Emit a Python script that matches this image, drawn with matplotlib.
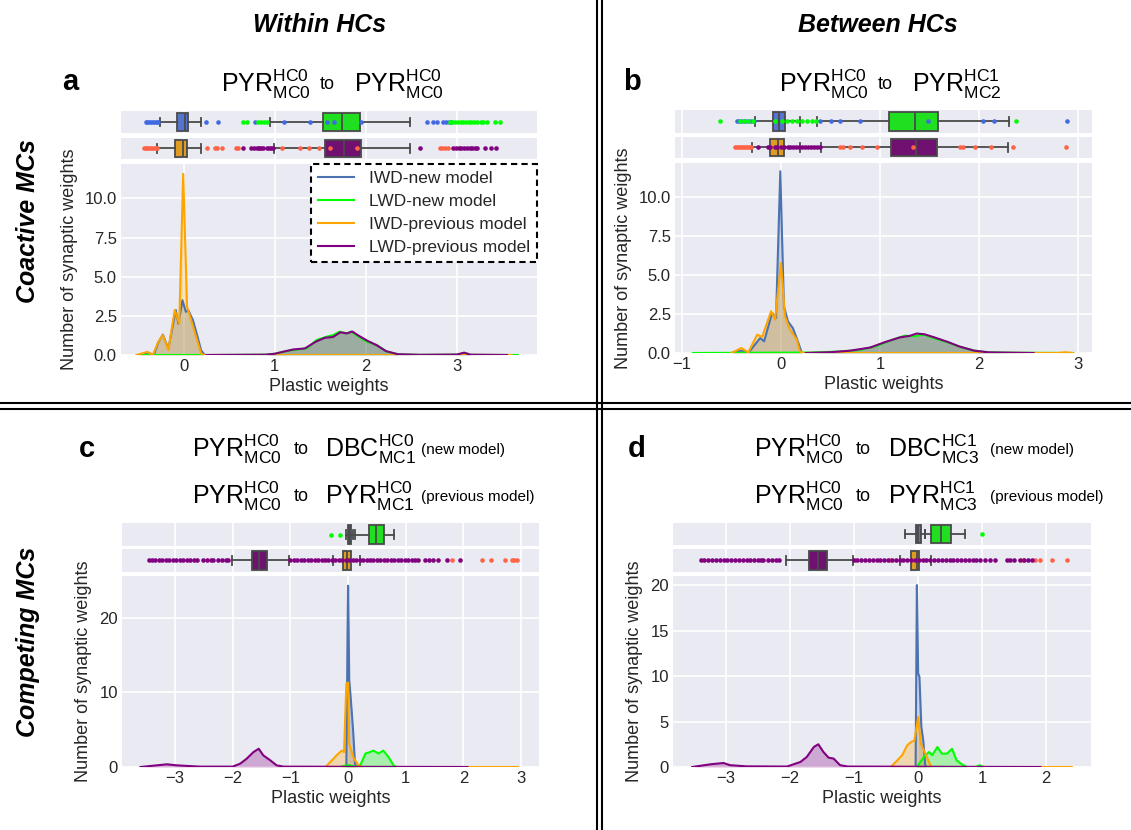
import matplotlib.pyplot as plt
from matplotlib.lines import Line2D

plt.rcParams['font.family'] = ['Liberation Sans', 'DejaVu Sans']
plt.rcParams['mathtext.fontset'] = 'custom'
plt.rcParams['mathtext.rm'] = 'Liberation Sans'
plt.rcParams['mathtext.it'] = 'Liberation Sans:italic'
plt.rcParams['mathtext.bf'] = 'Liberation Sans:bold'

# legend labels, in drawing order
series = ['IWD-new model', 'LWD-new model', 'IWD-previous model', 'LWD-previous model']

# ---- panel a : density curves (x, y) ----
a_x_iwd_new = [-0.50, -0.39, -0.33, -0.28, -0.23, -0.17, -0.088, -0.06, -0.015, 0.022, 0.048, 0.10, 0.14, 0.19, 0.23]
a_y_iwd_new = [0, 0.15, 0, 0.8, 1.3, 0.4, 2.87, 2.0, 3.5, 2.76, 2.87, 2.23, 1.4, 0.3, 0]
a_x_lwd_new = [-0.45, 0.3, 0.9, 0.98, 1.09, 1.2, 1.35, 1.46, 1.57, 1.64, 1.71, 1.79, 1.84, 1.92, 2.01, 2.12, 2.23, 2.37, 2.6, 3.0, 3.09, 3.15, 3.67]
a_y_lwd_new = [0, 0, 0.02, 0.06, 0.2, 0.32, 0.42, 0.96, 1.17, 1.27, 1.49, 1.38, 1.49, 1.17, 0.85, 0.64, 0.21, 0.03, 0.01, 0.02, 0.12, 0.01, 0]
a_x_iwd_prev = [-0.52, -0.40, -0.34, -0.28, -0.23, -0.17, -0.10, -0.05, -0.007, 0.036, 0.08, 0.14, 0.19, 0.22, 3.6]
a_y_iwd_prev = [0, 0.2, 0, 0.85, 1.27, 0.32, 2.87, 2.0, 11.57, 3.08, 2.23, 1.06, 0.1, 0, 0]
a_x_lwd_prev = [0.25, 0.9, 1.0, 1.1, 1.2, 1.33, 1.45, 1.55, 1.64, 1.72, 1.79, 1.85, 1.93, 2.02, 2.12, 2.22, 2.35, 2.6, 3.0, 3.08, 3.15, 3.55]
a_y_lwd_prev = [0, 0.02, 0.08, 0.22, 0.35, 0.42, 0.85, 1.1, 1.15, 1.45, 1.38, 1.5, 1.2, 0.9, 0.62, 0.25, 0.05, 0.01, 0.03, 0.15, 0.02, 0]

# ---- panel b ----
b_x_iwd_new = [-0.50, -0.40, -0.33, -0.21, -0.17, -0.09, -0.05, -0.007, 0.03, 0.07, 0.12, 0.17, 0.21]
b_y_iwd_new = [0, 0.15, 0, 0.96, 0.75, 2.57, 2.25, 11.67, 3.0, 2.03, 1.6, 0.75, 0]
b_x_lwd_new = [-0.89, 0.29, 0.63, 0.80, 0.96, 1.13, 1.25, 1.34, 1.44, 1.54, 1.68, 1.81, 1.94, 2.08, 2.31, 2.95]
b_y_lwd_new = [0, 0.03, 0.1, 0.2, 0.43, 0.86, 1.11, 1.07, 1.18, 0.96, 0.69, 0.39, 0.17, 0.05, 0.02, 0]
b_x_iwd_prev = [-0.50, -0.40, -0.33, -0.24, -0.19, -0.10, -0.06, 0.0, 0.04, 0.09, 0.16, 0.19, 0.22, 2.8, 2.87, 2.95]
b_y_iwd_prev = [0, 0.32, 0.04, 1.18, 1.03, 2.68, 2.14, 5.78, 2.36, 1.5, 0.86, 0.1, 0, 0, 0.05, 0]
b_x_lwd_prev = [0.25, 0.5, 0.7, 0.9, 1.05, 1.2, 1.30, 1.37, 1.45, 1.55, 1.68, 1.8, 1.95, 2.1, 2.55]
b_y_lwd_prev = [0, 0.05, 0.15, 0.35, 0.7, 1.0, 1.1, 1.25, 1.2, 1.0, 0.72, 0.42, 0.15, 0.04, 0]

# ---- panel c ----
c_x_iwd_new = [-0.03, -0.01, 0.0, 0.02, 0.04, 0.07, 0.09, 0.12, 0.14]
c_y_iwd_new = [0, 17.4, 24.3, 11.6, 9.8, 6.7, 4.5, 0.4, 0]
c_x_lwd_new = [-0.14, 0.0, 0.12, 0.21, 0.30, 0.38, 0.44, 0.53, 0.61, 0.70, 0.79, 0.84]
c_y_lwd_new = [0, 0.27, 0.05, 0.2, 1.8, 2.0, 2.2, 1.8, 2.2, 1.34, 0.2, 0]
c_x_iwd_prev = [-0.39, -0.28, -0.20, -0.11, -0.07, -0.03, 0.0, 0.02, 0.09, 0.18, 0.26, 2.07, 2.95]
c_y_iwd_prev = [0, 0.9, 1.56, 2.2, 2.0, 11.2, 11.3, 3.1, 1.3, 0.2, 0, 0, 0]
c_x_lwd_prev = [-3.6, -3.14, -2.97, -2.57, -2.0, -1.87, -1.76, -1.64, -1.55, -1.47, -1.35, -1.24, -1.12, 0.5, 2.07]
c_y_lwd_prev = [0, 0.36, 0.22, 0.05, 0.05, 0.45, 1.1, 2.0, 2.45, 1.56, 0.9, 0.22, 0.05, 0.02, 0]

# ---- panel d ----
d_x_iwd_new = [-0.04, -0.02, 0.0, 0.02, 0.05, 0.08, 0.11, 0.13]
d_y_iwd_new = [0, 20.0, 10.3, 9.9, 4.4, 2.9, 0.2, 0]
d_x_lwd_new = [-0.02, 0.09, 0.17, 0.22, 0.30, 0.37, 0.45, 0.53, 0.60, 0.68, 0.76, 0.90, 0.96, 1.02]
d_y_lwd_new = [0, 1.1, 1.65, 1.3, 2.2, 1.47, 1.47, 2.0, 0.73, 0.3, 0, 0, 0.2, 0]
d_x_iwd_prev = [-0.43, -0.33, -0.25, -0.17, -0.11, -0.06, 0.0, 0.04, 0.11, 0.19, 0.22, 1.9, 2.4]
d_y_iwd_prev = [0, 0.7, 1.3, 2.4, 2.75, 2.9, 5.5, 2.6, 1.5, 0.2, 0, 0, 0]
d_x_lwd_prev = [-3.53, -3.24, -3.04, -2.94, -2.68, -2.05, -1.84, -1.74, -1.63, -1.56, -1.48, -1.40, -1.32, -1.22, -1.10, 0.5, 1.91]
d_y_lwd_prev = [0, 0.3, 0.44, 0.2, 0.07, 0.05, 0.55, 1.1, 2.2, 2.5, 1.65, 1.03, 0.92, 0.2, 0.05, 0.02, 0]

# ---- box plot summaries: whislo, q1, median, q3, whishi ----
a_box_iwd_new = [-0.26, -0.074, 0.01, 0.047, 0.19]
a_box_lwd_new = [0.95, 1.53, 1.74, 1.94, 2.48]
a_box_iwd_prev = [-0.29, -0.095, -0.007, 0.036, 0.19]
a_box_lwd_prev = [0.99, 1.55, 1.76, 1.95, 2.49]
b_box_iwd_new = [-0.26, -0.078, -0.017, 0.04, 0.19]
b_box_lwd_new = [0.36, 1.09, 1.35, 1.59, 2.30]
b_box_iwd_prev = [-0.29, -0.11, -0.027, 0.027, 0.19]
b_box_lwd_prev = [0.40, 1.11, 1.36, 1.58, 2.29]
c_box_iwd_new = [-0.03, 0.0, 0.02, 0.05, 0.09]
c_box_lwd_new = [0.12, 0.36, 0.49, 0.63, 0.79]
c_box_iwd_prev = [-0.27, -0.09, -0.02, 0.047, 0.20]
c_box_lwd_prev = [-2.01, -1.67, -1.54, -1.41, -1.02]
d_box_iwd_new = [-0.20, -0.03, 0.005, 0.04, 0.11]
d_box_lwd_new = [0.11, 0.20, 0.35, 0.51, 0.73]
d_box_iwd_prev = [-0.29, -0.11, -0.02, 0.02, 0.20]
d_box_lwd_prev = [-2.07, -1.70, -1.57, -1.43, -1.02]

# ---- outliers ----
a_out_iwd_new = [-0.42, -0.40, -0.38, -0.36, -0.34, -0.32, -0.30, -0.28, 0.24, 0.38, 0.78, 1.10, 1.39, 1.57, 1.65, 1.95, 2.67, 2.74, 2.78, 2.85, 2.88, 2.91, 2.93]
a_out_lwd_new = [0.65, 0.69, 0.82, 0.85, 0.88, 0.91, 2.92, 2.95, 2.98, 3.01, 3.04, 3.07, 3.10, 3.13, 3.16, 3.19, 3.22, 3.26, 3.29, 3.33, 3.42, 3.47]
a_out_iwd_prev = [-0.44, -0.42, -0.40, -0.38, -0.36, -0.34, -0.32, -0.30, 0.25, 0.34, 0.36, 0.42, 0.57, 0.60, 0.83, 1.08, 1.28, 1.38, 1.49, 1.61, 1.90, 2.81, 2.84, 2.87, 2.90]
a_out_lwd_prev = [0.65, 0.74, 0.77, 0.80, 0.83, 0.85, 0.87, 0.91, 0.94, 0.96, 0.98, 2.60, 2.96, 2.99, 3.02, 3.05, 3.08, 3.11, 3.14, 3.17, 3.20, 3.22, 3.31, 3.38, 3.43]
b_out_iwd_new = [-0.44, -0.42, -0.39, -0.36, -0.33, -0.30, -0.27, 0.39, 0.50, 0.60, 0.80, 1.48, 2.04, 2.15, 2.89]
b_out_lwd_new = [-0.62, -0.41, -0.37, -0.33, -0.28, -0.06, 0.01, 0.06, 0.11, 0.16, 0.21, 0.26, 0.31, 0.35, 2.37]
b_out_iwd_prev = [-0.46, -0.44, -0.42, -0.40, -0.38, -0.36, -0.34, -0.32, -0.30, 0.60, 0.63, 0.70, 0.82, 0.97, 1.33, 1.81, 1.84, 1.96, 2.12, 2.34, 2.88]
b_out_lwd_prev = [-0.23, -0.13, -0.11, -0.06, -0.04, 0.0, 0.03, 0.07, 0.09, 0.12, 0.15, 0.18, 0.21, 0.24, 0.27, 0.30, 0.33, 0.36, 0.39]
c_out_iwd_new = []
c_out_lwd_new = [-0.30, -0.14]
c_out_iwd_prev = [1.81, 2.32, 2.47, 2.72, 2.85, 2.88, 2.92]
c_out_lwd_prev = [-3.46, -3.40, -3.34, -3.28, -3.22, -3.16, -3.10, -3.04, -2.98, -2.92, -2.86, -2.80, -2.74,
                  -2.68, -2.62, -2.51, -2.45, -2.38, -2.34, -2.25, -2.18, -2.12, -2.08,
                  -1.00, -0.94, -0.88, -0.82, -0.76, -0.70, -0.64, -0.58, -0.52, -0.46, -0.40, -0.34, -0.28,
                  -0.22, -0.16, -0.10, -0.04, 0.02, 0.08, 0.14, 0.20, 0.26, 0.32, 0.38, 0.44, 0.50, 0.56,
                  0.62, 0.68, 0.74, 0.80, 0.86, 0.92, 0.98, 1.04, 1.10, 1.16, 1.22, 1.34, 1.40, 1.48,
                  1.56, 1.71, 1.94]
d_out_iwd_new = []
d_out_lwd_new = [0.99]
d_out_iwd_prev = [-0.44, 1.64, 1.83, 1.91, 2.09, 2.33]
d_out_lwd_prev = [-3.40, -3.34, -3.28, -3.22, -3.16, -3.10, -3.04, -2.98, -2.92, -2.86, -2.80, -2.74, -2.68,
                  -2.62, -2.56, -2.50, -2.46, -2.42, -2.34, -2.28, -2.22, -2.17,
                  -1.01, -0.95, -0.89, -0.83, -0.77, -0.71, -0.65, -0.59, -0.53, -0.47, -0.41, -0.35, -0.29,
                  -0.23, -0.17, -0.11, -0.05, 0.01, 0.07, 0.13, 0.19, 0.25, 0.31, 0.37, 0.43, 0.49, 0.55,
                  0.61, 0.67, 0.73, 0.79, 0.85, 0.91, 0.97, 1.05, 1.12, 1.20, 1.39, 1.44, 1.49, 1.59,
                  1.65, 1.71, 1.78]

# ---- styles ----
line_colors = ['#4c72b0', '#00ff00', '#ffa500', '#800080']
box_colors = ['#5674cd', '#20df20', '#df9c20', '#701070']
dot_colors = ['#4169e1', '#00ff00', '#ff6347', '#800080']
edge = '#4a4a4a'
bg = '#eaeaf2'
txt = '#262626'

W, H = 1131, 830
fig = plt.figure(figsize=(W / 100, H / 100), dpi=100)


def rect(x0, y0, x1, y1):
    return [x0 / W, 1 - y1 / H, (x1 - x0) / W, (y1 - y0) / H]


def ftext(x, y, s, **kw):
    fig.text(x / W, 1 - y / H, s, **kw)


def style(ax):
    ax.set_facecolor(bg)
    for sp in ax.spines.values():
        sp.set_visible(False)
    ax.set_axisbelow(True)
    ax.grid(True, color='white', lw=1.2)
    ax.tick_params(length=0, pad=3, labelsize=12, labelcolor=txt)


panels = [
    dict(x=(121, 537), s1=(111, 133), s2=(138, 159), d=(164, 355), xlim=(-0.69, 3.88), ylim=(0, 12.2),
         xt=[0, 1, 2, 3], yt=[0, 2.5, 5, 7.5, 10],
         dens=[(a_x_iwd_new, a_y_iwd_new), (a_x_lwd_new, a_y_lwd_new), (a_x_iwd_prev, a_y_iwd_prev), (a_x_lwd_prev, a_y_lwd_prev)],
         box=[a_box_iwd_new, a_box_lwd_new, a_box_iwd_prev, a_box_lwd_prev],
         out=[a_out_iwd_new, a_out_lwd_new, a_out_iwd_prev, a_out_lwd_prev]),
    dict(x=(675, 1092), s1=(110, 133), s2=(137, 158), d=(163, 353), xlim=(-1.07, 3.14), ylim=(0, 12.2),
         xt=[-1, 0, 1, 2, 3], yt=[0, 2.5, 5, 7.5, 10],
         dens=[(b_x_iwd_new, b_y_iwd_new), (b_x_lwd_new, b_y_lwd_new), (b_x_iwd_prev, b_y_iwd_prev), (b_x_lwd_prev, b_y_lwd_prev)],
         box=[b_box_iwd_new, b_box_lwd_new, b_box_iwd_prev, b_box_lwd_prev],
         out=[b_out_iwd_new, b_out_lwd_new, b_out_iwd_prev, b_out_lwd_prev]),
    dict(x=(122, 539), s1=(523, 546), s2=(549, 572), d=(576, 767), xlim=(-3.92, 3.31), ylim=(0, 25.6),
         xt=[-3, -2, -1, 0, 1, 2, 3], yt=[0, 10, 20],
         dens=[(c_x_iwd_new, c_y_iwd_new), (c_x_lwd_new, c_y_lwd_new), (c_x_iwd_prev, c_y_iwd_prev), (c_x_lwd_prev, c_y_lwd_prev)],
         box=[c_box_iwd_new, c_box_lwd_new, c_box_iwd_prev, c_box_lwd_prev],
         out=[c_out_iwd_new, c_out_lwd_new, c_out_iwd_prev, c_out_lwd_prev]),
    dict(x=(673, 1091), s1=(523, 545), s2=(549, 572), d=(576, 767), xlim=(-3.83, 2.70), ylim=(0, 21.0),
         xt=[-3, -2, -1, 0, 1, 2], yt=[0, 5, 10, 15, 20],
         dens=[(d_x_iwd_new, d_y_iwd_new), (d_x_lwd_new, d_y_lwd_new), (d_x_iwd_prev, d_y_iwd_prev), (d_x_lwd_prev, d_y_lwd_prev)],
         box=[d_box_iwd_new, d_box_lwd_new, d_box_iwd_prev, d_box_lwd_prev],
         out=[d_out_iwd_new, d_out_lwd_new, d_out_iwd_prev, d_out_lwd_prev]),
]

for p in panels:
    x0, x1 = p['x']
    # two box strips: new model on top, previous model below
    for row, (ya, yb) in enumerate([p['s1'], p['s2']]):
        ax = fig.add_axes(rect(x0, ya, x1, yb))
        style(ax)
        ax.grid(False, axis='y')
        ax.set_xlim(*p['xlim'])
        ax.set_ylim(-0.5, 0.5)
        ax.set_xticks(p['xt'])
        ax.set_xticklabels([])
        ax.set_yticks([])
        for k in (2 * row, 2 * row + 1):
            lo, q1, med, q3, hi = p['box'][k]
            st = dict(whislo=lo, q1=q1, med=med, q3=q3, whishi=hi, fliers=[])
            ax.bxp([st], positions=[0], widths=0.8, orientation='horizontal', patch_artist=True,
                   showfliers=False, manage_ticks=False, capwidths=0.4,
                   boxprops=dict(facecolor=box_colors[k], edgecolor=edge, lw=1.3),
                   whiskerprops=dict(color=edge, lw=1.3), capprops=dict(color=edge, lw=1.3),
                   medianprops=dict(color=edge, lw=1.3))
        for k in (2 * row, 2 * row + 1):
            fl = p['out'][k]
            ax.plot(fl, [0] * len(fl), 'o', ms=3.3, mew=0, color=dot_colors[k], zorder=6)

    ya, yb = p['d']
    ax = fig.add_axes(rect(x0, ya, x1, yb))
    style(ax)
    for k, (xs, ys) in enumerate(p['dens']):
        ax.fill_between(xs, ys, color=line_colors[k], alpha=0.28, lw=0)
        ax.plot(xs, ys, color=line_colors[k], lw=1.5, label=series[k])
    ax.set_xlim(*p['xlim'])
    ax.set_ylim(*p['ylim'])
    ax.set_xticks(p['xt'])
    ax.set_yticks(p['yt'])
    ax.set_xlabel('Plastic weights', fontsize=13, color=txt, labelpad=3)
    ax.set_ylabel('Number of synaptic weights', fontsize=13, color=txt, labelpad=5)
    p['ax'] = ax

# legend in panel a
handles = [Line2D([], [], color=c, lw=1.5) for c in line_colors]
leg = panels[0]['ax'].legend(handles, series, loc='upper right', bbox_to_anchor=(1, 1), borderaxespad=0,
                             fancybox=False, framealpha=1, edgecolor='black', fontsize=12.5,
                             handlelength=2.1, handletextpad=0.85, labelspacing=0.45)
leg.get_frame().set_linestyle((0, (3, 2)))
leg.get_frame().set_linewidth(1.5)
for t in leg.get_texts():
    t.set_color(txt)

# panel titles
def term(name, hc, mc):
    return r'$\mathrm{%s}^{\mathrm{%s}}_{\mathrm{%s}}$' % (name, hc, mc)


ftext(221, 92, term('PYR', 'HC0', 'MC0'), fontsize=18, ha='left', va='baseline')
ftext(327, 89, 'to', fontsize=13, ha='center', va='baseline')
ftext(354, 92, term('PYR', 'HC0', 'MC0'), fontsize=18, ha='left', va='baseline')

ftext(779, 92, term('PYR', 'HC0', 'MC0'), fontsize=18, ha='left', va='baseline')
ftext(885, 89, 'to', fontsize=13, ha='center', va='baseline')
ftext(912, 92, term('PYR', 'HC1', 'MC2'), fontsize=18, ha='left', va='baseline')

for (lx, tx, rx, px), (tgt1, tgt2) in [((192, 301, 325, 421), (('DBC', 'HC0', 'MC1'), ('PYR', 'HC0', 'MC1'))),
                                       ((754, 863, 888, 990), (('DBC', 'HC1', 'MC3'), ('PYR', 'HC1', 'MC3')))]:
    for yb, tgt, note in [(457, tgt1, '(new model)'), (504, tgt2, '(previous model)')]:
        ftext(lx, yb, term('PYR', 'HC0', 'MC0'), fontsize=18, ha='left', va='baseline')
        ftext(tx, yb - 3, 'to', fontsize=13, ha='center', va='baseline')
        ftext(rx, yb, term(*tgt), fontsize=18, ha='left', va='baseline')
        ftext(px, yb - 3, note, fontsize=11, ha='left', va='baseline')

# panel letters
for s, x, y in [('a', 70, 90), ('b', 632, 90), ('c', 87, 457), ('d', 637, 457)]:
    ftext(x, y, s, fontsize=21, fontweight='bold', ha='center', va='baseline')

# column and row headers
ftext(320, 25, 'Within HCs', fontsize=18, fontweight='bold', style='italic', ha='center', va='center')
ftext(878, 25, 'Between HCs', fontsize=18, fontweight='bold', style='italic', ha='center', va='center')
ftext(28, 221, 'Coactive MCs', fontsize=18, fontweight='bold', style='italic', ha='center', va='center', rotation=90)
ftext(28, 642, 'Competing MCs', fontsize=18, fontweight='bold', style='italic', ha='center', va='center', rotation=90)

# double separator lines
for xv in (596.5, 601.5):
    fig.add_artist(Line2D([xv / W, xv / W], [0, 1], transform=fig.transFigure, color='black', lw=1.5))
for yv in (403.5, 408.5):
    fig.add_artist(Line2D([0, 1], [1 - yv / H, 1 - yv / H], transform=fig.transFigure, color='black', lw=1.5))

fig.savefig('out.png', dpi=100, facecolor='white')
